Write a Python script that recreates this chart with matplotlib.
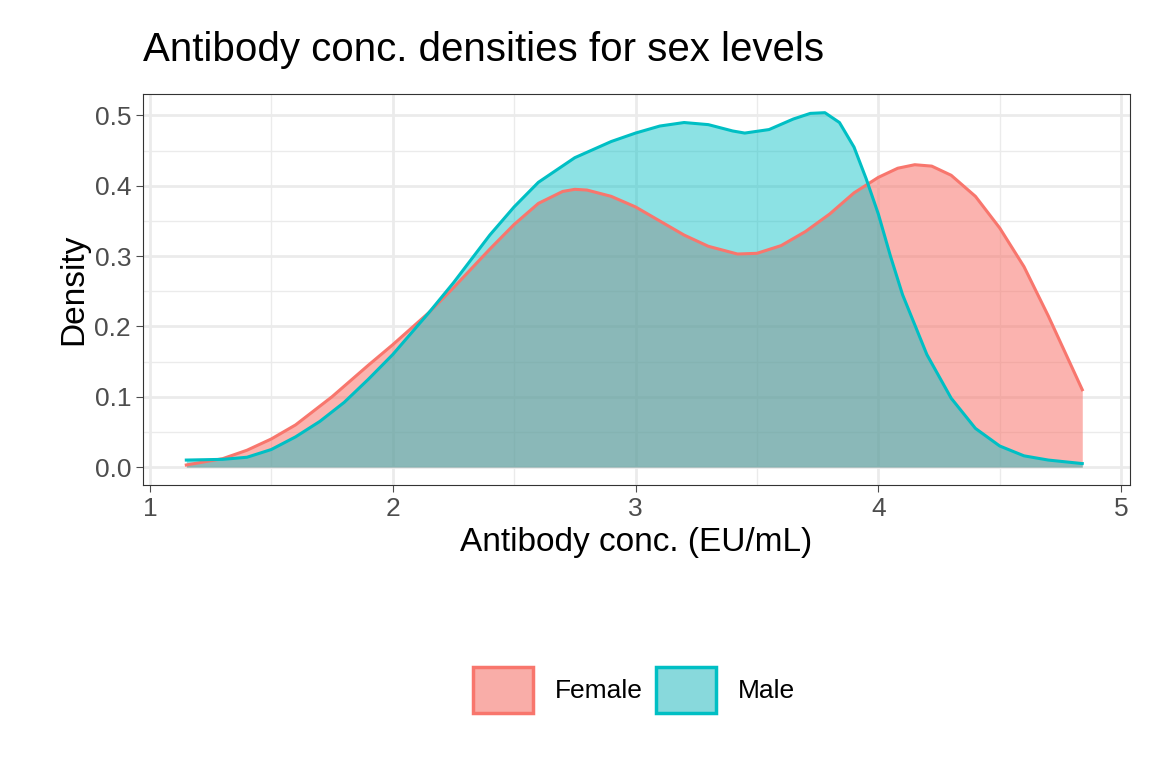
import matplotlib.pyplot as plt
import numpy as np
from matplotlib.patches import Patch

plt.rcParams['font.family'] = ['Liberation Sans', 'DejaVu Sans']

# values
female_x = [1.15, 1.3, 1.4, 1.5, 1.6, 1.75, 1.9, 2.0, 2.15, 2.25, 2.4, 2.5, 2.6, 2.7, 2.75, 2.8, 2.9, 3.0, 3.1, 3.2, 3.3, 3.42, 3.5, 3.6, 3.7, 3.8, 3.9, 4.0, 4.08, 4.15, 4.22, 4.3, 4.4, 4.5, 4.6, 4.7, 4.84]
female_y = [0.003, 0.012, 0.024, 0.04, 0.06, 0.10, 0.145, 0.174, 0.22, 0.255, 0.31, 0.345, 0.375, 0.392, 0.395, 0.394, 0.385, 0.37, 0.35, 0.33, 0.314, 0.303, 0.304, 0.315, 0.335, 0.36, 0.39, 0.412, 0.425, 0.43, 0.428, 0.415, 0.385, 0.34, 0.285, 0.215, 0.11]
male_x = [1.15, 1.3, 1.4, 1.5, 1.6, 1.7, 1.8, 1.9, 2.0, 2.15, 2.25, 2.4, 2.5, 2.6, 2.75, 2.9, 3.0, 3.1, 3.2, 3.3, 3.4, 3.45, 3.55, 3.65, 3.72, 3.78, 3.84, 3.9, 3.95, 4.0, 4.05, 4.1, 4.2, 4.3, 4.4, 4.5, 4.6, 4.7, 4.84]
male_y = [0.01, 0.011, 0.014, 0.025, 0.043, 0.065, 0.092, 0.125, 0.16, 0.22, 0.262, 0.33, 0.37, 0.405, 0.44, 0.463, 0.475, 0.485, 0.49, 0.487, 0.478, 0.475, 0.48, 0.495, 0.503, 0.504, 0.49, 0.455, 0.41, 0.36, 0.3, 0.245, 0.16, 0.098, 0.055, 0.03, 0.016, 0.01, 0.005]

red, teal = '#F8766D', '#00BFC4'

fig = plt.figure(figsize=(11.52, 7.68), dpi=100)
ax = fig.add_axes([0.124, 0.368, 0.857, 0.51])

ax.fill_between(female_x, female_y, color=red, alpha=0.55, lw=0)
ax.plot(female_x, female_y, color=red, lw=2.2)
ax.fill_between(male_x, male_y, color=teal, alpha=0.45, lw=0)
ax.plot(male_x, male_y, color=teal, lw=2.2)

ax.set_xlim(0.971, 5.037)
ax.set_ylim(-0.026, 0.531)
ax.set_xticks([1, 2, 3, 4, 5])
ax.set_yticks(np.arange(0, 0.51, 0.1))
ax.set_yticklabels(['0.0', '0.1', '0.2', '0.3', '0.4', '0.5'])
ax.set_xticks(np.arange(1.5, 5, 1), minor=True)
ax.set_yticks(np.arange(0.05, 0.5, 0.1), minor=True)
ax.grid(True, which='major', color='#EBEBEB', lw=2)
ax.grid(True, which='minor', color='#EBEBEB', lw=1)
ax.set_axisbelow(True)
for s in ax.spines.values():
    s.set_color('#333333')
ax.tick_params(which='major', labelsize=19, colors='#4D4D4D', length=5)
ax.tick_params(which='minor', length=0)

ax.set_xlabel('Antibody conc. (EU/mL)', fontsize=24)
ax.set_ylabel('Density', fontsize=24)
fig.text(0.124, 0.92, 'Antibody conc. densities for sex levels', fontsize=29)

handles = [Patch(facecolor='#F9ADA8', edgecolor=red, lw=2.5, label='Female'),
           Patch(facecolor='#88D9DC', edgecolor=teal, lw=2.5, label='Male')]
fig.legend(handles=handles, loc='center', bbox_to_anchor=(0.55, 0.102), ncol=2,
           frameon=False, fontsize=19, handlelength=2.3, handleheight=2.3,
           columnspacing=0.5)

fig.savefig('out.png', dpi=100)
